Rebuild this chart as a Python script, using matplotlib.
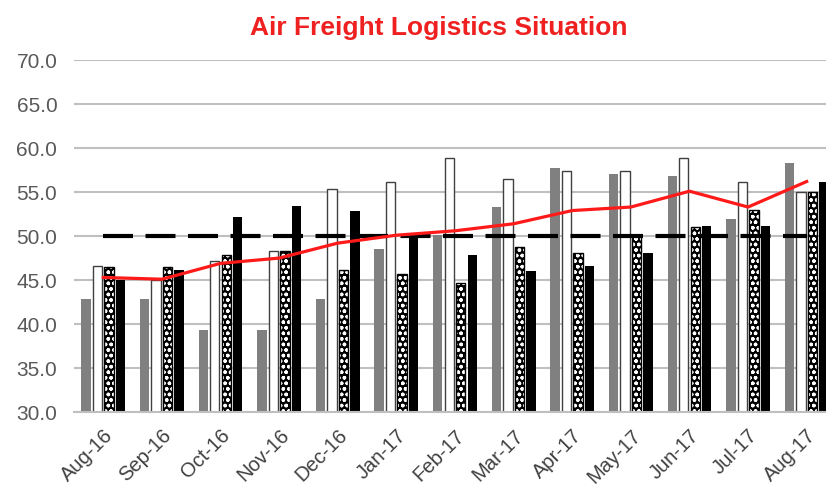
import numpy as np
import matplotlib
matplotlib.use('Agg')
import matplotlib.pyplot as plt

plt.rcParams['font.family'] = ['Liberation Sans', 'DejaVu Sans']

months = ['Aug-16', 'Sep-16', 'Oct-16', 'Nov-16', 'Dec-16', 'Jan-17', 'Feb-17',
          'Mar-17', 'Apr-17', 'May-17', 'Jun-17', 'Jul-17', 'Aug-17']
gray_vals = [42.8, 42.8, 39.3, 39.3, 42.9, 48.5, 50.1, 53.3, 57.7, 57.1, 56.8, 51.9, 58.3]
white_vals = [46.6, 45.0, 47.2, 48.3, 55.3, 56.2, 58.9, 56.5, 57.4, 57.4, 58.9, 56.1, 55.0]
dotted_vals = [46.5, 46.5, 47.9, 48.3, 46.1, 45.7, 44.7, 48.8, 48.1, 50.0, 51.0, 53.0, 55.0]
black_vals = [45.0, 46.1, 52.2, 53.4, 52.9, 50.0, 47.8, 46.0, 46.6, 48.1, 51.2, 51.2, 56.2]
trend_vals = [45.3, 45.1, 46.9, 47.5, 49.2, 50.1, 50.6, 51.4, 52.9, 53.3, 55.1, 53.3, 56.2]
threshold = [50.0] * len(months)

fig = plt.figure(figsize=(8.26, 4.9), dpi=100)
ax = fig.add_axes([0.0896, 0.159, 0.9225, 0.7184])

x = np.arange(len(months))
w = 0.16
step = 0.196

ax.bar(x - 1.5 * step, gray_vals, w, color='#808080', zorder=2)
ax.bar(x - 0.5 * step, white_vals, w, color='white', edgecolor='#404040', linewidth=1, zorder=2)
# dotted bars: black with white dots, then a black outline on top
ax.bar(x + 0.5 * step, dotted_vals, w, color='black', edgecolor='white', hatch='ooo',
       linewidth=0, zorder=2)
ax.bar(x + 0.5 * step, dotted_vals, w, fill=False, edgecolor='black', linewidth=1, zorder=2)
ax.bar(x + 1.5 * step, black_vals, w, color='black', zorder=2)

ax.plot(x, threshold, color='black', lw=3, dashes=(7.2, 3.0), zorder=3)
ax.plot(x, trend_vals, color='#ff1a1a', lw=2.3, zorder=4)

ax.set_ylim(30, 70)
ax.set_xlim(-0.5, len(months) - 0.5)
ax.set_yticks(np.arange(30, 71, 5))
ax.set_yticklabels(['%.1f' % v for v in np.arange(30, 71, 5)], color='#595959', fontsize=15)
ax.set_xticks(x)
ax.set_xticklabels(months, rotation=45, ha='right', rotation_mode='anchor',
                   color='#404040', fontsize=14.5)
ax.tick_params(axis='y', length=0, pad=12)
ax.tick_params(axis='x', length=0, pad=10)
ax.grid(axis='y', color='#bfbfbf', lw=1.5, zorder=0)
ax.set_axisbelow(True)
for s in ('left', 'right', 'top'):
    ax.spines[s].set_visible(False)
ax.spines['bottom'].set_color('#bfbfbf')
ax.spines['bottom'].set_linewidth(1.5)

fig.text(0.531, 0.943, 'Air Freight Logistics Situation', color='#ee2020',
         fontsize=19, fontweight='bold', ha='center', va='center')

fig.savefig('out.png', dpi=100)
